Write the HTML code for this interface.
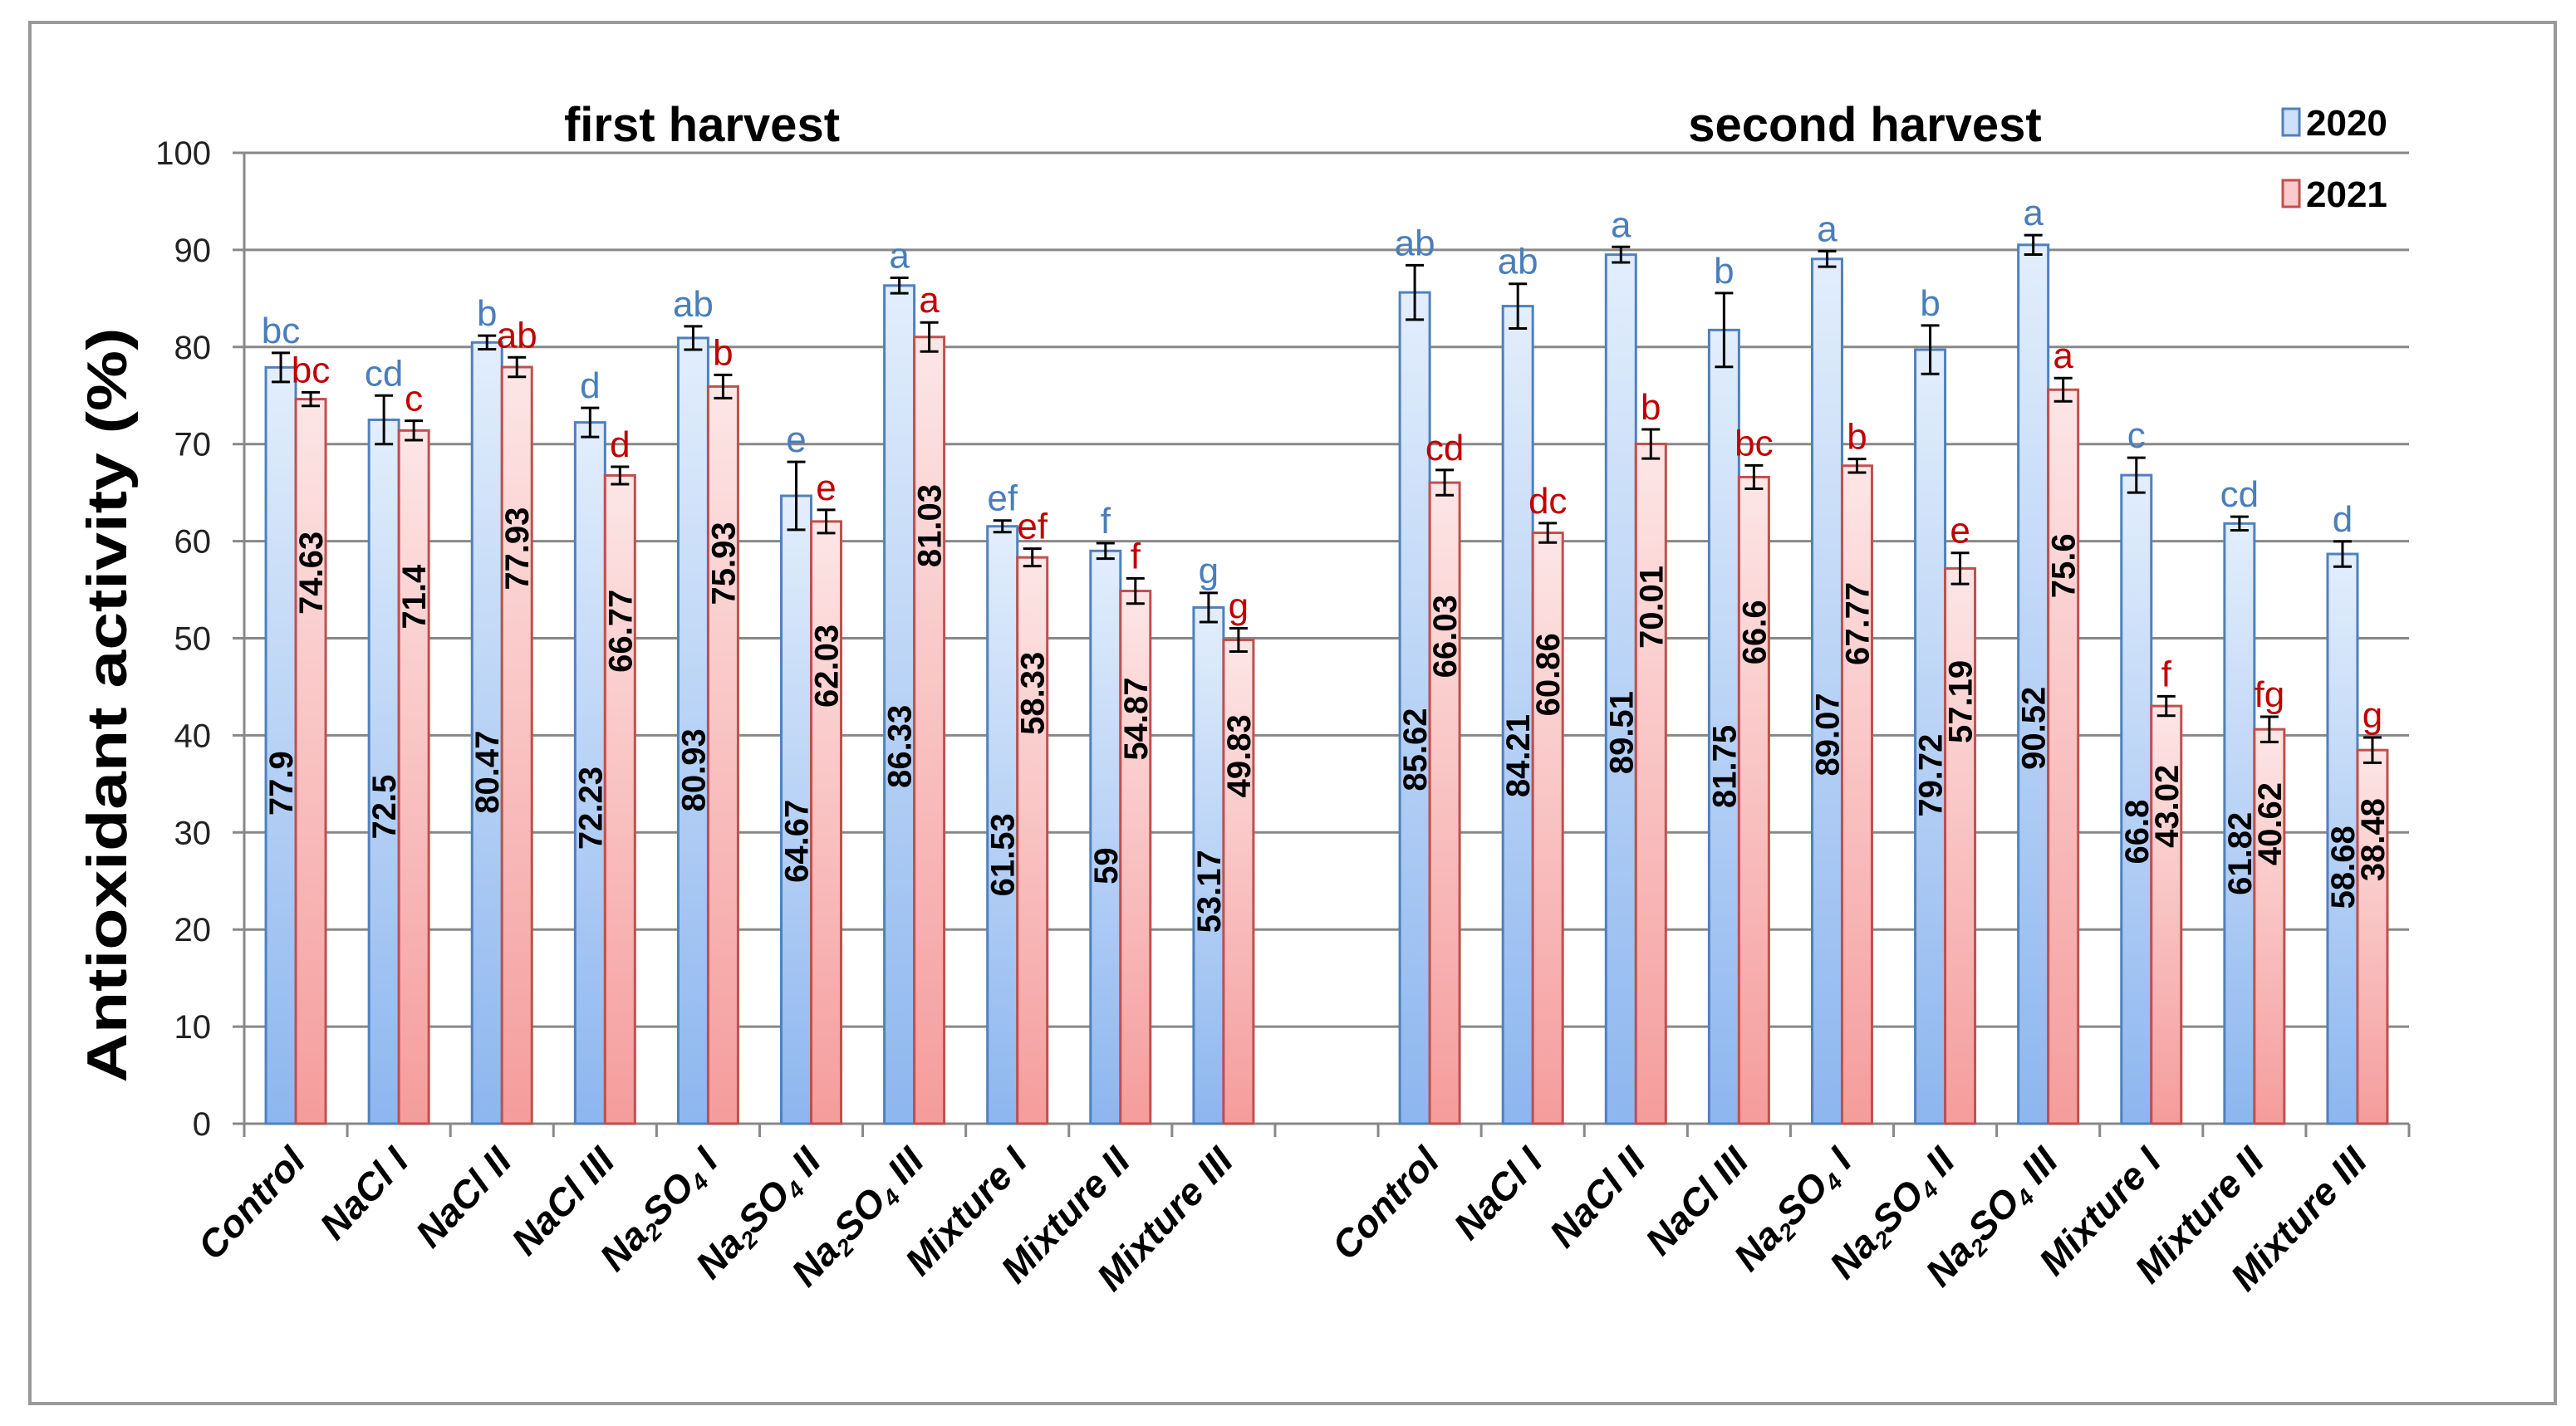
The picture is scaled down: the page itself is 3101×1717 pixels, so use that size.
<!DOCTYPE html>
<html><head><meta charset="utf-8"><style>
html,body{margin:0;padding:0;background:#fff;}
svg{display:block;font-family:"Liberation Sans",sans-serif;}
</style></head><body>
<svg id="chart" width="3101" height="1717" viewBox="0 0 3101 1717" xmlns="http://www.w3.org/2000/svg">
<defs>
<linearGradient id="gBlue" x1="0" y1="0" x2="0" y2="1"><stop offset="0" stop-color="#e3eefc"/><stop offset="1" stop-color="#8db6ef"/></linearGradient>
<linearGradient id="gRed" x1="0" y1="0" x2="0" y2="1"><stop offset="0" stop-color="#fde6e6"/><stop offset="1" stop-color="#f59c9c"/></linearGradient>
</defs>
<rect x="36" y="27" width="3040" height="1663" fill="#fff" stroke="#999" stroke-width="4"/>
<g id="grid"></g>
<g id="bars"></g>
<g id="labels"></g>
<text x="845" y="170" font-size="58" font-weight="bold" text-anchor="middle">first harvest</text>
<text x="2245" y="170" font-size="58" font-weight="bold" text-anchor="middle">second harvest</text>
<g>
<rect x="2748" y="131" width="20" height="32" fill="#cfe1f9" stroke="#4f81bd" stroke-width="3"/>
<text x="2776" y="163" font-size="44" font-weight="bold">2020</text>
<rect x="2748" y="217" width="20" height="32" fill="#fbcaca" stroke="#c0504d" stroke-width="3"/>
<text x="2776" y="249" font-size="44" font-weight="bold">2021</text>
</g>
<text transform="translate(152,849) rotate(-90)" font-size="68" font-weight="bold" text-anchor="middle" textLength="909" lengthAdjust="spacingAndGlyphs">Antioxidant activity (%)</text>
</svg>
<script>
const categories = ["Control","NaCl I","NaCl II","NaCl III","Na2SO4 I","Na2SO4 II","Na2SO4 III","Mixture I","Mixture II","Mixture III","","Control","NaCl I","NaCl II","NaCl III","Na2SO4 I","Na2SO4 II","Na2SO4 III","Mixture I","Mixture II","Mixture III"];
const values2020 = [77.9,72.5,80.47,72.23,80.93,64.67,86.33,61.53,59,53.17,null,85.62,84.21,89.51,81.75,89.07,79.72,90.52,66.8,61.82,58.68];
const values2021 = [74.63,71.4,77.93,66.77,75.93,62.03,81.03,58.33,54.87,49.83,null,66.03,60.86,70.01,66.6,67.77,57.19,75.6,43.02,40.62,38.48];
const err2020 = [1.5,2.5,0.7,1.5,1.2,3.5,0.8,0.6,0.8,1.5,null,2.8,2.3,0.8,3.8,0.8,2.5,1,1.8,0.7,1.3];
const err2021 = [0.7,1,1,0.9,1.2,1.2,1.5,0.9,1.3,1.2,null,1.3,1,1.5,1.2,0.7,1.6,1.2,1,1.3,1.3];
const letters2020 = ["bc","cd","b","d","ab","e","a","ef","f","g","","ab","ab","a","b","a","b","a","c","cd","d"];
const letters2021 = ["bc","c","ab","d","b","e","a","ef","f","g","","cd","dc","b","bc","b","e","a","f","fg","g"];
const yTicks = [0,10,20,30,40,50,60,70,80,90,100];

const NS="http://www.w3.org/2000/svg";
const X0=294, X1=2900, Y0=1353, Y100=184;
const slot=(X1-X0)/categories.length;
const yS=v=>Y0-(v/100)*(Y0-Y100);
const xC=i=>X0+slot*(i+0.5);
const bw=36;
function mk(tag,attrs,parent,text){const e=document.createElementNS(NS,tag);for(const k in attrs)e.setAttribute(k,attrs[k]);if(text!==undefined)e.textContent=text;parent.appendChild(e);return e;}
const grid=document.getElementById('grid'),bars=document.getElementById('bars'),labels=document.getElementById('labels');

yTicks.forEach(t=>{
  const y=yS(t);
  const l=mk('line',{x1:X0-14,x2:X1,y1:y,y2:y,stroke:'#888','stroke-width':3},grid);
  
  
  const tx=mk('text',{x:254,y:y+14,'font-size':40,'text-anchor':'end',fill:'#222'},grid,String(t));
  
  
});
const ax=mk('line',{x1:X0,x2:X0,y1:Y100,y2:Y0,stroke:'#888','stroke-width':3},grid);


for(let i=0;i<=categories.length;i++){
  const x=X0+slot*i;
  const t=mk('line',{x1:x,x2:x,y1:Y0,y2:Y0+16,stroke:'#888','stroke-width':3},grid);
  
  
}

function errBar(x,v,e){
  const yt=yS(v+e),yb=yS(v-e);
  const g=mk('g',{stroke:'#000','stroke-width':3},bars);
  
  
  mk('line',{x1:x,x2:x,y1:yt,y2:yb},g);
  mk('line',{x1:x-11,x2:x+11,y1:yt,y2:yt},g);
  mk('line',{x1:x-11,x2:x+11,y1:yb,y2:yb},g);
  return yt;
}

categories.forEach((c,i)=>{
  if(values2020[i]==null) return;
  const cx=xC(i);
  [[values2020,err2020,letters2020,'url(#gBlue)','#4f81bd','#4a7ebb',-1,'2020',0.45],[values2021,err2021,letters2021,'url(#gRed)','#c0504d','#c00000',0,'2021',0.76]].forEach(s=>{
    const v=s[0][i];
    const bx=s[6]<0?cx-bw:cx;
    const r=mk('rect',{x:bx,y:yS(v),width:bw,height:Y0-yS(v),fill:s[3],stroke:s[4],'stroke-width':3},bars);
    
    
    const mid=bx+bw/2;
    const yt=errBar(mid,v,s[1][i]);
    const lt=mk('text',{x:mid,y:yt-12,'font-size':44,'text-anchor':'middle',fill:s[5]},labels,s[2][i]);
    
    
    const vy=yS(v*s[8]);
    const vt=mk('text',{transform:`translate(${mid+14},${vy}) rotate(-90)`,'font-size':40,'font-weight':'bold','text-anchor':'middle',fill:'#000'},labels,String(v));
    
    
  });
  const xl=mk('text',{transform:`translate(${cx+14},${1400}) rotate(-47)`,'font-size':46,'font-weight':'bold','font-style':'italic','text-anchor':'end',fill:'#000'},labels);
  
  
  const m=c.match(/^Na2SO4 (.*)$/);
  if(m){
    mk('tspan',{},xl,'Na');
    mk('tspan',{'font-size':28,dy:8},xl,'2');
    mk('tspan',{dy:-8},xl,'SO');
    mk('tspan',{'font-size':28,dy:8},xl,'4');
    mk('tspan',{dy:-8},xl,' '+m[1]);
  } else xl.textContent=c;
});
</script>
</body></html>
